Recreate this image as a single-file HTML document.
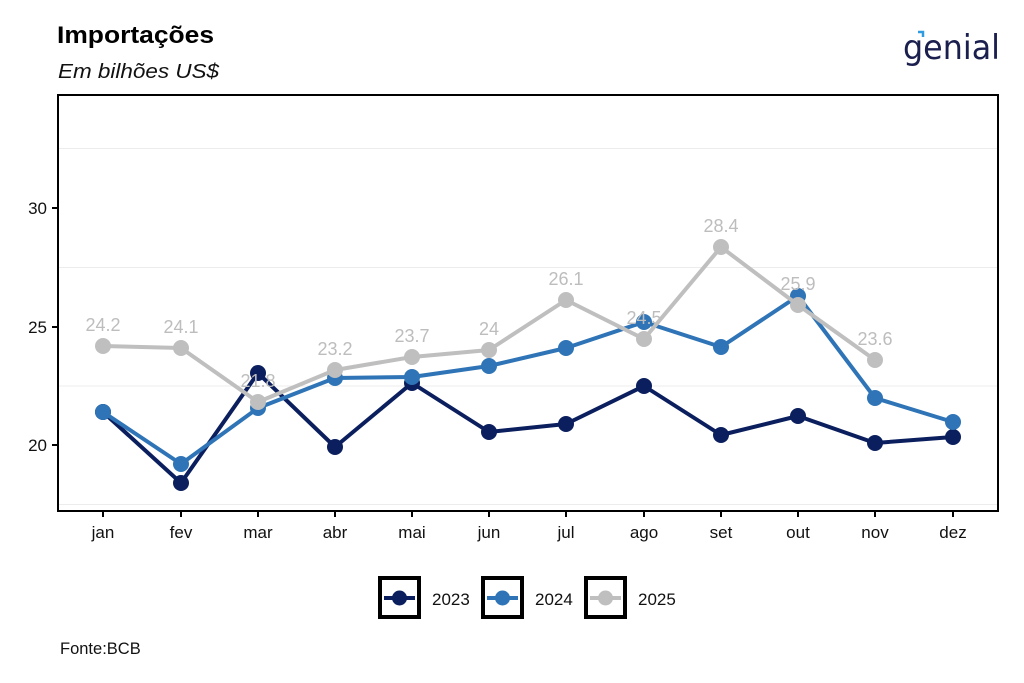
<!DOCTYPE html>
<html><head><meta charset="utf-8"><style>
html,body{margin:0;padding:0;background:#fff;}
svg{display:block;font-family:"Liberation Sans",Arial,sans-serif;}
</style></head><body>
<svg width="1024" height="683" viewBox="0 0 1024 683" xmlns="http://www.w3.org/2000/svg">
<rect width="1024" height="683" fill="#fff"/>
<text x="57" y="43" font-size="24.5" font-weight="bold" fill="#000" textLength="157" lengthAdjust="spacingAndGlyphs">Importações</text>
<text x="58" y="78" font-size="20.5" font-style="italic" fill="#111" textLength="161" lengthAdjust="spacingAndGlyphs">Em bilhões US$</text>
<!-- logo -->
<text x="903" y="59" font-size="34" fill="#1b1f4e" font-family="'DejaVu Sans','Liberation Sans',sans-serif" textLength="97" lengthAdjust="spacingAndGlyphs">genial</text>
<path d="M918 32 h5 v5" stroke="#2f9be0" stroke-width="2.5" fill="none"/>
<!-- gridlines -->
<g stroke="#ececec" stroke-width="1">
<line x1="58" x2="997" y1="148.5" y2="148.5"/>
<line x1="58" x2="997" y1="267.5" y2="267.5"/>
<line x1="58" x2="997" y1="386" y2="386"/>
<line x1="58" x2="997" y1="504.5" y2="504.5"/>
</g>
<!-- panel border -->
<rect x="58" y="95" width="940" height="416" fill="none" stroke="#000" stroke-width="2"/>
<!-- y ticks -->
<g stroke="#000" stroke-width="2">
<line x1="52" x2="58" y1="208" y2="208"/>
<line x1="52" x2="58" y1="327" y2="327"/>
<line x1="52" x2="58" y1="445" y2="445"/>
</g>
<g font-size="17" fill="#111" text-anchor="end">
<text x="47" y="214">30</text>
<text x="47" y="333">25</text>
<text x="47" y="451">20</text>
</g>
<!-- x ticks -->
<g stroke="#000" stroke-width="2">
<line x1="103" x2="103" y1="511" y2="517"/>
<line x1="181" x2="181" y1="511" y2="517"/>
<line x1="258" x2="258" y1="511" y2="517"/>
<line x1="335" x2="335" y1="511" y2="517"/>
<line x1="412" x2="412" y1="511" y2="517"/>
<line x1="489" x2="489" y1="511" y2="517"/>
<line x1="566" x2="566" y1="511" y2="517"/>
<line x1="644" x2="644" y1="511" y2="517"/>
<line x1="721" x2="721" y1="511" y2="517"/>
<line x1="798" x2="798" y1="511" y2="517"/>
<line x1="875" x2="875" y1="511" y2="517"/>
<line x1="953" x2="953" y1="511" y2="517"/>
</g>
<g font-size="17" fill="#111" text-anchor="middle">
<text x="103" y="538">jan</text>
<text x="181" y="538">fev</text>
<text x="258" y="538">mar</text>
<text x="335" y="538">abr</text>
<text x="412" y="538">mai</text>
<text x="489" y="538">jun</text>
<text x="566" y="538">jul</text>
<text x="644" y="538">ago</text>
<text x="721" y="538">set</text>
<text x="798" y="538">out</text>
<text x="875" y="538">nov</text>
<text x="953" y="538">dez</text>
</g>
<!-- 2023 -->
<g fill="#0b1f5e" stroke="none">
<polyline fill="none" stroke="#0b1f5e" stroke-width="4" stroke-linejoin="round" points="103,412 181,483 258,373 335,447 412,383 489,432 566,424 644,386 721,435 798,416 875,443 953,437"/>
<circle cx="103" cy="412" r="8"/><circle cx="181" cy="483" r="8"/><circle cx="258" cy="373" r="8"/><circle cx="335" cy="447" r="8"/><circle cx="412" cy="383" r="8"/><circle cx="489" cy="432" r="8"/><circle cx="566" cy="424" r="8"/><circle cx="644" cy="386" r="8"/><circle cx="721" cy="435" r="8"/><circle cx="798" cy="416" r="8"/><circle cx="875" cy="443" r="8"/><circle cx="953" cy="437" r="8"/>
</g>
<!-- 2024 -->
<g fill="#2e74b6">
<polyline fill="none" stroke="#2e74b6" stroke-width="4" stroke-linejoin="round" points="103,412 181,464 258,408 335,378 412,377 489,366 566,348 644,322 721,347 798,296 875,398 953,422"/>
<circle cx="103" cy="412" r="8"/><circle cx="181" cy="464" r="8"/><circle cx="258" cy="408" r="8"/><circle cx="335" cy="378" r="8"/><circle cx="412" cy="377" r="8"/><circle cx="489" cy="366" r="8"/><circle cx="566" cy="348" r="8"/><circle cx="644" cy="322" r="8"/><circle cx="721" cy="347" r="8"/><circle cx="798" cy="296" r="8"/><circle cx="875" cy="398" r="8"/><circle cx="953" cy="422" r="8"/>
</g>
<!-- 2025 -->
<g fill="#bfbfbf">
<polyline fill="none" stroke="#bfbfbf" stroke-width="4" stroke-linejoin="round" points="103,346 181,348 258,402 335,370 412,357 489,350 566,300 644,339 721,247 798,305 875,360"/>
<circle cx="103" cy="346" r="8"/><circle cx="181" cy="348" r="8"/><circle cx="258" cy="402" r="8"/><circle cx="335" cy="370" r="8"/><circle cx="412" cy="357" r="8"/><circle cx="489" cy="350" r="8"/><circle cx="566" cy="300" r="8"/><circle cx="644" cy="339" r="8"/><circle cx="721" cy="247" r="8"/><circle cx="798" cy="305" r="8"/><circle cx="875" cy="360" r="8"/>
</g>
<g font-size="18" fill="#bdbdbd" text-anchor="middle">
<text x="103" y="331">24.2</text>
<text x="181" y="333">24.1</text>
<text x="258" y="387">21.8</text>
<text x="335" y="355">23.2</text>
<text x="412" y="342">23.7</text>
<text x="489" y="335">24</text>
<text x="566" y="285">26.1</text>
<text x="644" y="324">24.5</text>
<text x="721" y="232">28.4</text>
<text x="798" y="290">25.9</text>
<text x="875" y="345">23.6</text>
</g>
<!-- legend -->
<g>
<rect x="380" y="578" width="39" height="39" fill="#fff" stroke="#000" stroke-width="4"/>
<line x1="384" x2="415" y1="598" y2="598" stroke="#0b1f5e" stroke-width="4"/>
<circle cx="399.5" cy="598" r="7.5" fill="#0b1f5e"/>
<text x="432" y="605" font-size="17" fill="#111">2023</text>
<rect x="483" y="578" width="39" height="39" fill="#fff" stroke="#000" stroke-width="4"/>
<line x1="487" x2="518" y1="598" y2="598" stroke="#2e74b6" stroke-width="4"/>
<circle cx="502.5" cy="598" r="7.5" fill="#2e74b6"/>
<text x="535" y="605" font-size="17" fill="#111">2024</text>
<rect x="586" y="578" width="39" height="39" fill="#fff" stroke="#000" stroke-width="4"/>
<line x1="590" x2="621" y1="598" y2="598" stroke="#bfbfbf" stroke-width="4"/>
<circle cx="605.5" cy="598" r="7.5" fill="#bfbfbf"/>
<text x="638" y="605" font-size="17" fill="#111">2025</text>
</g>
<text x="60" y="654" font-size="16.5" fill="#111">Fonte:BCB</text>
</svg>
</body></html>
